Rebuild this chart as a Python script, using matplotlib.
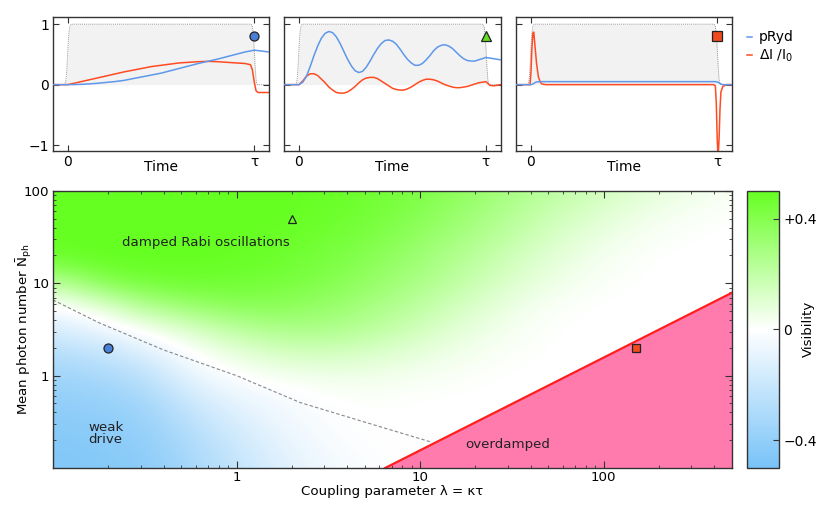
import matplotlib
matplotlib.use('Agg')
import matplotlib.pyplot as plt
from matplotlib.colors import LinearSegmentedColormap
import numpy as np

plt.rcParams['font.family'] = ['DejaVu Sans']
plt.rcParams['mathtext.fontset'] = 'dejavusans'
FS = 9.6

# ---- top panels: time traces ----
pulse_t = [-0.08, -0.02, -0.015, -0.01, -0.005, 0.0, 0.005, 0.01, 0.015, 0.02,
           0.98, 0.985, 0.99, 0.995, 1.0, 1.005, 1.01, 1.015, 1.02, 1.08]
pulse_v = [0, 0, 0.01, 0.08, 0.3, 0.6, 0.85, 0.96, 0.995, 1,
           1, 0.995, 0.96, 0.85, 0.6, 0.3, 0.08, 0.01, 0, 0]

# panel 1 (weak drive)
t1_blue = [-0.08, 0, 0.05, 0.1, 0.15, 0.2, 0.25, 0.3, 0.35, 0.4, 0.45, 0.5, 0.55,
           0.6, 0.65, 0.7, 0.75, 0.8, 0.85, 0.9, 0.95, 1.0, 1.03, 1.08]
p1_blue = [0, 0, 0.003, 0.01, 0.02, 0.035, 0.05, 0.07, 0.10, 0.13, 0.16, 0.19, 0.23,
           0.27, 0.31, 0.35, 0.385, 0.42, 0.46, 0.50, 0.54, 0.57, 0.56, 0.54]
t1_red = [-0.08, 0, 0.05, 0.1, 0.15, 0.2, 0.25, 0.3, 0.35, 0.4, 0.45, 0.5, 0.55, 0.6,
          0.65, 0.7, 0.75, 0.8, 0.85, 0.9, 0.95, 0.98, 0.99, 1.0, 1.01, 1.02, 1.08]
p1_red = [0, 0, 0.035, 0.07, 0.105, 0.14, 0.175, 0.21, 0.24, 0.27, 0.30, 0.32, 0.34, 0.36,
          0.37, 0.38, 0.385, 0.38, 0.37, 0.36, 0.35, 0.33, 0.25, 0.05, -0.1, -0.13, -0.13]

# panel 2 (damped Rabi oscillations)
t2 = [-0.08, 0.0, 0.02, 0.04, 0.06, 0.08, 0.10, 0.12, 0.14, 0.16, 0.18, 0.20, 0.22,
      0.24, 0.26, 0.28, 0.30, 0.32, 0.34, 0.36, 0.38, 0.40, 0.42, 0.44, 0.46, 0.48,
      0.50, 0.52, 0.54, 0.56, 0.58, 0.60, 0.62, 0.64, 0.66, 0.68, 0.70, 0.72, 0.74,
      0.76, 0.78, 0.80, 0.82, 0.84, 0.86, 0.88, 0.90, 0.92, 0.94, 0.96, 0.98, 1.00,
      1.02, 1.04, 1.06, 1.08]
p2_blue = [0, 0.00, 0.04, 0.14, 0.30, 0.48, 0.64, 0.77, 0.85, 0.88, 0.86, 0.79, 0.68,
           0.55, 0.42, 0.31, 0.23, 0.20, 0.22, 0.29, 0.39, 0.50, 0.60, 0.68, 0.73, 0.74,
           0.72, 0.67, 0.59, 0.50, 0.42, 0.36, 0.32, 0.32, 0.35, 0.41, 0.48, 0.56, 0.62,
           0.65, 0.66, 0.64, 0.60, 0.54, 0.48, 0.43, 0.40, 0.39, 0.39, 0.41, 0.43, 0.45,
           0.44, 0.43, 0.42, 0.41]
p2_red = [0, 0.00, 0.06, 0.14, 0.18, 0.18, 0.15, 0.09, 0.03, -0.04, -0.09, -0.13, -0.14,
          -0.14, -0.12, -0.08, -0.03, 0.03, 0.08, 0.11, 0.12, 0.12, 0.10, 0.06, 0.02, -0.02,
          -0.06, -0.08, -0.09, -0.09, -0.07, -0.04, 0.00, 0.04, 0.07, 0.09, 0.09, 0.08, 0.06,
          0.03, 0.00, -0.02, -0.04, -0.05, -0.05, -0.04, -0.03, -0.01, 0.01, 0.03, 0.04, 0.05,
          -0.01, -0.02, -0.01, 0.00]

# panel 3 (overdamped)
t3_blue = [-0.08, 0.0, 0.01, 0.02, 0.03, 0.05, 0.99, 1.0, 1.01, 1.02, 1.03, 1.08]
p3_blue = [0, 0, 0.01, 0.03, 0.045, 0.05, 0.05, 0.045, 0.03, 0.01, 0.0, 0.0]
t3_red = [-0.08, -0.005, 0.0, 0.005, 0.01, 0.015, 0.02, 0.03, 0.04, 0.05, 0.06, 0.08,
          0.98, 0.99, 0.995, 1.0, 1.005, 1.01, 1.015, 1.02, 1.03, 1.05, 1.08]
p3_red = [0, 0, 0.2, 0.6, 0.85, 0.87, 0.7, 0.35, 0.13, 0.04, 0.01, 0,
          0, -0.02, -0.3, -0.9, -1.2, -0.9, -0.4, -0.12, -0.03, 0, 0]

# ---- main panel: visibility map on a quarter-decade grid ----
log_lam = [-1, -0.75, -0.5, -0.25, 0, 0.25, 0.5, 0.75, 1, 1.25, 1.5, 1.75,
           2, 2.25, 2.5, 2.75]
log_nph = [-1, -0.75, -0.5, -0.25, 0, 0.25, 0.5, 0.75, 1, 1.25, 1.5, 1.75, 2]
vis = [
    [-0.46, -0.45, -0.43, -0.33, -0.22, -0.12, -0.05, -0.01, 0, 0, 0, 0, 0, 0, 0, 0],
    [-0.45, -0.44, -0.41, -0.30, -0.19, -0.09, -0.03, 0, 0, 0, 0, 0, 0, 0, 0, 0],
    [-0.43, -0.42, -0.38, -0.25, -0.14, -0.06, -0.01, 0, 0, 0, 0, 0, 0, 0, 0, 0],
    [-0.40, -0.38, -0.33, -0.18, -0.08, -0.03, 0.0, 0.01, 0, 0, 0, 0, 0, 0, 0, 0],
    [-0.35, -0.32, -0.25, -0.08, 0.0, 0.03, 0.05, 0.05, 0.03, 0.01, 0, 0, 0, 0, 0, 0],
    [-0.27, -0.22, -0.13, 0.0, 0.08, 0.14, 0.15, 0.12, 0.08, 0.04, 0.01, 0, 0, 0, 0, 0],
    [-0.15, -0.08, 0.02, 0.12, 0.22, 0.27, 0.27, 0.22, 0.15, 0.08, 0.03, 0, 0, 0, 0, 0],
    [-0.02, 0.08, 0.25, 0.33, 0.38, 0.38, 0.34, 0.28, 0.21, 0.13, 0.06, 0.01, 0, 0, 0, 0],
    [0.20, 0.38, 0.45, 0.47, 0.46, 0.44, 0.40, 0.34, 0.27, 0.19, 0.11, 0.05, 0.01, 0, 0, 0],
    [0.47, 0.50, 0.50, 0.50, 0.49, 0.47, 0.43, 0.38, 0.31, 0.23, 0.15, 0.08, 0.03, 0, 0, 0],
    [0.50, 0.50, 0.50, 0.50, 0.50, 0.49, 0.46, 0.42, 0.35, 0.28, 0.20, 0.12, 0.06, 0.02, 0, 0],
    [0.50, 0.50, 0.50, 0.50, 0.50, 0.50, 0.48, 0.45, 0.39, 0.32, 0.24, 0.16, 0.10, 0.05, 0.02, 0],
    [0.50, 0.50, 0.50, 0.50, 0.50, 0.50, 0.49, 0.46, 0.42, 0.36, 0.28, 0.21, 0.15, 0.09, 0.05, 0.02],
]

# borders between regimes
dash_lam = [0.1, 0.18, 0.4, 1.0, 2.23, 5.1, 11.6]
dash_n = [6.6, 3.7, 1.9, 1.0, 0.51, 0.31, 0.19]
od_lam = [6.45, 500]
od_n = [0.1, 7.9]

# example points shown in the top panels
pts_lam = [0.2, 2, 150]
pts_n = [2, 50, 2]

blue = '#5f97ea'
red = '#ff4a22'

fig = plt.figure(figsize=(8.31, 5.14), dpi=100)

top_axes = [fig.add_axes([0.0638, 0.706, 0.260, 0.261]),
            fig.add_axes([0.3418, 0.706, 0.261, 0.261]),
            fig.add_axes([0.621, 0.706, 0.260, 0.261])]
traces = [(t1_blue, p1_blue, t1_red, p1_red), (t2, p2_blue, t2, p2_red),
          (t3_blue, p3_blue, t3_red, p3_red)]
marks = [('o', '#4a7fd8'), ('^', '#66dd22'), ('s', '#f04a1e')]

for i, ax in enumerate(top_axes):
    tb, pb, tr, pr = traces[i]
    ax.fill_between(pulse_t, 0, pulse_v, color='#f2f2f2', lw=0, zorder=0)
    ax.plot(pulse_t, pulse_v, color='#999999', ls=(0, (1, 1)), lw=0.7, zorder=1)
    lb, = ax.plot(tb, pb, color=blue, lw=1.1, zorder=3)
    lr, = ax.plot(tr, pr, color=red, lw=1.1, zorder=2)
    ax.plot(1.0, 0.8, marker=marks[i][0], ms=6.5, mfc=marks[i][1], mec='#222222',
            mew=0.9, zorder=4)
    ax.set_xlim(-0.08, 1.08)
    ax.set_ylim(-1.1, 1.12)
    ax.set_xticks([0, 1])
    ax.set_xticklabels(['0', 'τ'])
    ax.set_yticks([-1, 0, 1])
    if i == 0:
        ax.set_yticklabels(['−1', '0', '1'])
    else:
        ax.set_yticklabels([])
    ax.tick_params(direction='in', top=True, right=True, length=4, width=0.8,
                   labelsize=FS + 0.4, pad=3, color='#333333')
    ax.text(0.5, -0.115, 'Time', transform=ax.transAxes, ha='center', va='center',
            fontsize=FS + 0.4)
    for s in ax.spines.values():
        s.set_color('#333333')
        s.set_linewidth(1.0)

fig.legend([lb, lr], ['pRyd', r'ΔI /I$_0$'], loc='upper left',
           bbox_to_anchor=(0.884, 0.965), frameon=False, handlelength=0.35,
           handletextpad=0.5, fontsize=FS + 0.4, labelspacing=0.25)

rect = [0.0638, 0.0895, 0.817, 0.539]
# colour field drawn on a linear axes in log10 units behind the log axes
bg = fig.add_axes(rect, zorder=0)
cmap = LinearSegmentedColormap.from_list('vis', ['#78c3f8', '#ffffff', '#66ff22'])
img = bg.imshow(np.array(vis), origin='lower', cmap=cmap, vmin=-0.5, vmax=0.5,
                interpolation='bicubic', aspect='auto',
                extent=(log_lam[0] - 0.125, log_lam[-1] + 0.125,
                        log_nph[0] - 0.125, log_nph[-1] + 0.125))
bg.set_xlim(np.log10(0.1), np.log10(500))
bg.set_ylim(np.log10(0.1), np.log10(100))
bg.set_axis_off()

ax = fig.add_axes(rect, zorder=1)
ax.patch.set_alpha(0)
ax.set_xscale('log')
ax.set_yscale('log')
ax.fill_between(od_lam, [0.1, 0.1], od_n, color='#ff7aad', lw=0, zorder=1)
ax.plot(od_lam, od_n, color='#ff1e1e', lw=1.6, zorder=2)
ax.plot(dash_lam, dash_n, color='#888888', ls=(0, (3, 2)), lw=0.8, zorder=2)

ax.plot(pts_lam[0], pts_n[0], 'o', ms=6.5, mfc='#4a7fd8', mec='#222222', mew=0.9, zorder=4)
ax.plot(pts_lam[1], pts_n[1], '^', ms=6, mfc='none', mec='#222222', mew=0.9, zorder=4)
ax.plot(pts_lam[2], pts_n[2], 's', ms=6, mfc='#f04a1e', mec='#222222', mew=0.9, zorder=4)

ax.text(0.68, 28, 'damped Rabi oscillations', ha='center', va='center', fontsize=FS,
        color='#222222')
ax.text(0.155, 0.236, 'weak\ndrive', ha='left', va='center', fontsize=FS,
        color='#222222', linespacing=0.95)
ax.text(30, 0.18, 'overdamped', ha='center', va='center', fontsize=FS, color='#222222')

ax.set_xlim(0.1, 500)
ax.set_ylim(0.1, 100)
ax.set_xticks([1, 10, 100])
ax.set_xticklabels(['1', '10', '100'])
ax.set_yticks([1, 10, 100])
ax.set_yticklabels(['1', '10', '100'])
ax.tick_params(which='both', direction='in', top=True, right=True, color='#333333',
               labelsize=FS)
ax.tick_params(which='major', length=5, width=0.8, pad=2.5)
ax.tick_params(which='minor', length=2.5, width=0.6)
ax.set_xlabel('Coupling parameter λ = κτ', fontsize=FS)
ax.xaxis.set_label_coords(0.5, -0.062)
ax.set_ylabel(r'Mean photon number $\bar{\mathrm{N}}_{\mathrm{ph}}$', fontsize=FS)
ax.yaxis.set_label_coords(-0.028, 0.5)
for s in ax.spines.values():
    s.set_color('#333333')
    s.set_linewidth(1.0)

cax = fig.add_axes([0.899, 0.0895, 0.0385, 0.539])
cb = fig.colorbar(img, cax=cax, ticks=[-0.4, 0, 0.4])
cb.ax.set_yticklabels(['−0.4', '0', '+0.4'])
cb.ax.tick_params(direction='in', length=4, width=0.8, labelsize=FS + 0.4, pad=3,
                  color='#333333')
cb.outline.set_edgecolor('#333333')
cb.outline.set_linewidth(1.0)
fig.text(808 / 831, 1 - 329 / 514, 'Visibility', rotation=90, ha='center', va='center',
         fontsize=FS)

fig.savefig('out.png', dpi=100)
